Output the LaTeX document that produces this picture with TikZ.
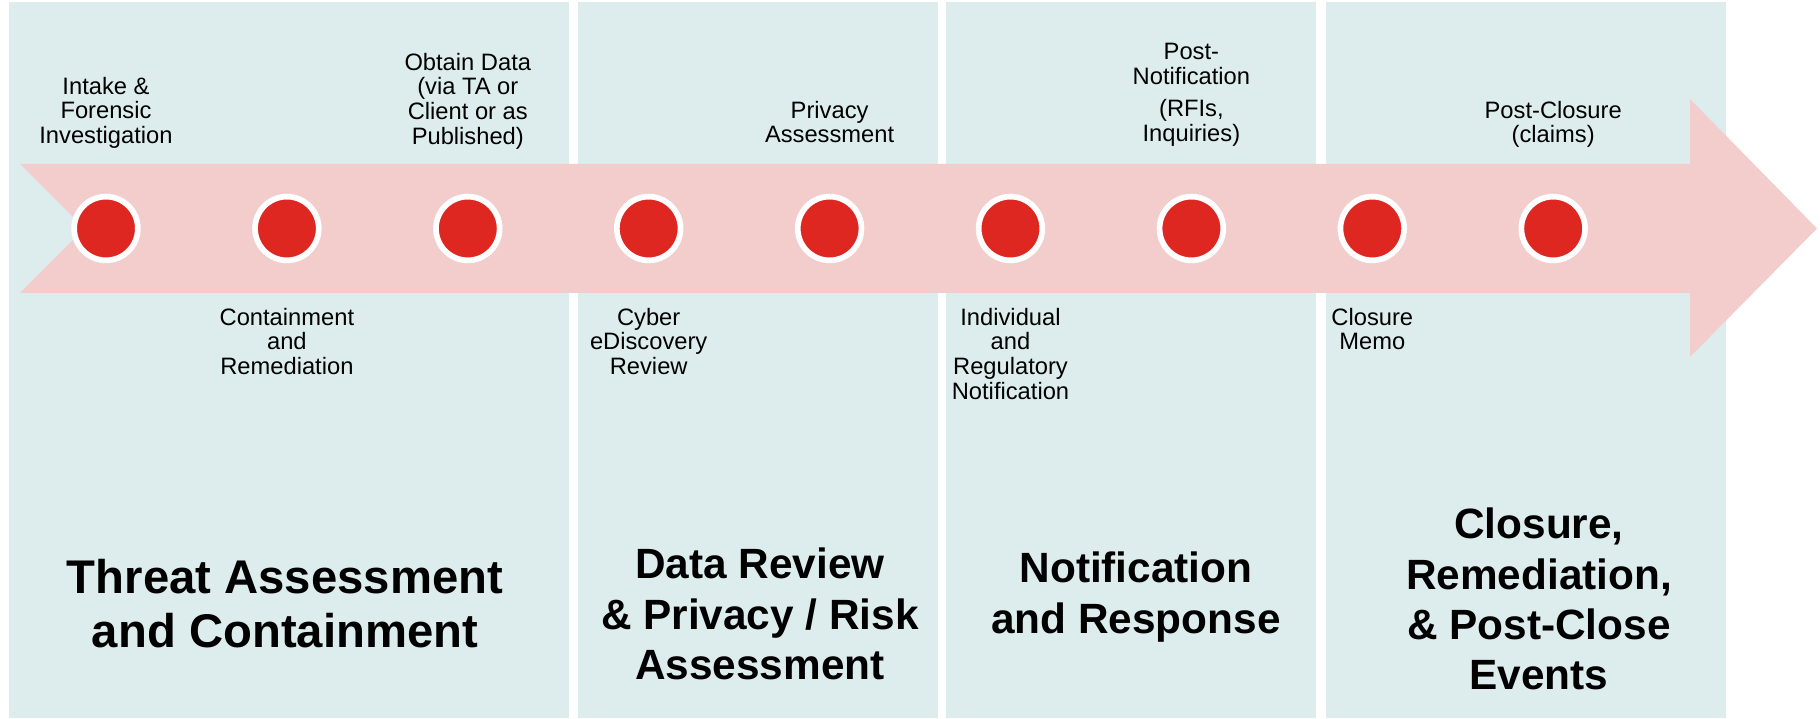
\documentclass[tikz,border=0pt]{standalone}
\usepackage{fontspec}
\setmainfont{Liberation Sans}
\definecolor{PTeal}{RGB}{221,237,237}
\definecolor{PPink}{RGB}{243,205,204}
\definecolor{PRed}{RGB}{223,39,34}
\newcommand{\phasepanel}[2]{%
	\fill[PTeal] (#1,0.01) rectangle (#2,7.17);
}
\tikzset{
	lbl/.style={anchor=north, align=center, inner sep=0pt, outer sep=0pt,
		font=\fontsize{6.75pt}{7.05pt}\selectfont},
	ttl/.style={anchor=north, align=center, inner sep=0pt, outer sep=0pt,
		font=\fontsize{12.05pt}{14.35pt}\selectfont\bfseries},
	dot/.style={circle, fill=PRed, draw=white, line width=0.057cm,
		minimum size=0.637cm, inner sep=0pt}
}

\begin{document}
\begin{tikzpicture}[line join=miter]
	\useasboundingbox (0,0) rectangle (18.20,7.19);
	
	% -- Phase panels ---------------------------------------------
	\phasepanel{0.09}{5.69}
	\phasepanel{5.78}{9.38}
	\phasepanel{9.46}{13.16}
	\phasepanel{13.26}{17.255}
	
	% -- Timeline arrow (notched tail, wide head) ------------------
	\fill[PPink] (0.20,5.55) -- (16.90,5.55) -- (16.90,6.20) -- (18.17,4.905)
	-- (16.90,3.62) -- (16.90,4.26) -- (0.20,4.26) -- (0.845,4.905) -- cycle;
	
	% -- Milestones -----------------------------------------------
	\foreach \ii in {1,...,9}{%
		\node[dot] (m\ii) at ({1.06+(\ii-1)*1.809},4.905) {};
	}
	
	% above the arrow
	\node[lbl] (intake) at (m1 |- 0,6.42) {Intake \&\\Forensic\\Investigation};
	\node[lbl] (obtain) at (m3 |- 0,6.66) {Obtain Data\\(via TA or\\Client or as\\Published)};
	\node[lbl] (privacy) at (m5 |- 0,6.18) {Privacy\\Assessment};
	\node[lbl] (postnotify) at (m7 |- 0,6.76) {Post-\\Notification\\[2.3pt](RFIs,\\Inquiries)};
	\node[lbl] (postclose) at (m9 |- 0,6.18) {Post-Closure\\(claims)};
	
	% below the arrow
	\node[lbl] (contain) at (m2 |- 0,4.11) {Containment\\and\\Remediation};
	\node[lbl] (ediscovery) at (m4 |- 0,4.11) {Cyber\\eDiscovery\\Review};
	\node[lbl] (regnotify) at (m6 |- 0,4.11) {Individual\\and\\Regulatory\\Notification};
	\node[lbl] (memo) at (m8 |- 0,4.11) {Closure\\Memo};
	
	% -- Phase titles ---------------------------------------------
	\node[ttl, font=\fontsize{13.45pt}{15.35pt}\selectfont\bfseries] (threat)
	at (2.85,1.60) {Threat Assessment\\and Containment};
	\node[ttl] (review) at (7.60,1.71) {Data Review\\\& Privacy / Risk\\Assessment};
	\node[ttl] (response) at (11.36,1.67) {Notification\\and Response};
	\node[ttl] (closure) at (15.39,2.11) {Closure,\\Remediation,\\\& Post-Close\\Events};
	
\end{tikzpicture}
\end{document}
